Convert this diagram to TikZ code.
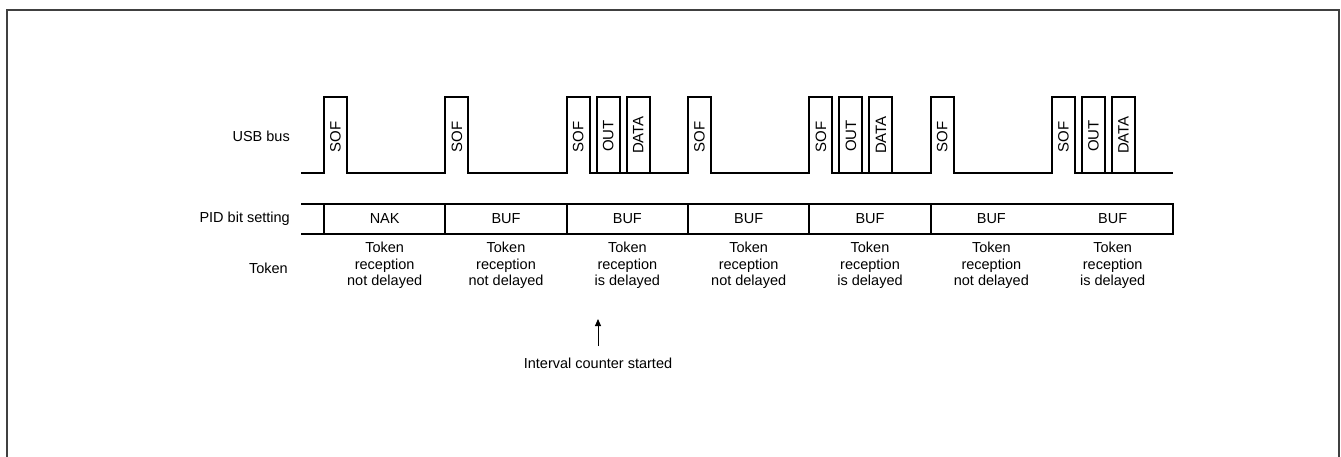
\documentclass[tikz,border=0pt]{standalone}
\usepackage{fontspec}
\setmainfont{Liberation Sans}
\usetikzlibrary{arrows.meta}
\begin{document}
\begin{tikzpicture}[x=1pt,y=-1pt,
  lbl/.style={font=\fontsize{14.5}{16.5}\selectfont, inner sep=0pt},
  rot/.style={font=\fontsize{15}{17}\selectfont, inner sep=0pt, rotate=90},
  wave/.style={line width=1.7pt, line join=miter},
  frame/.style={line width=2pt, draw=black!75}]
\useasboundingbox (0,0) rectangle (1341,456);
\draw[frame] (7,460) -- (7,10) -- (1339,10) -- (1339,460);
% row labels
\node[lbl, anchor=east] (lusb) at (290,136) {USB bus};
\node[lbl, anchor=east] (lpid) at (290,219) {PID bit setting};
\node[lbl, anchor=east] (ltok) at (288,268) {Token};
% waveform
\def\pw{23}
\coordinate (ws) at (301,173);
\coordinate (we) at (1173,173);
\draw[wave] (ws)
  \foreach \x in {324,445.33,566.67,688,809.33,930.67,1052} {
    -- (\x,173) -- (\x,97) -- (\x+\pw,97) -- (\x+\pw,173) }
  -- (we);
\foreach \x in {596.67,626.67,839.33,869.33,1082,1112}
  \draw[wave] (\x,173) rectangle (\x+\pw,97);
\foreach \x [count=\i] in {324,445.33,566.67,688,809.33,930.67,1052}
  \node[rot] (sof\i) at (\x+11.5,137) {SOF};
\foreach \x [count=\i] in {566.67,809.33,1052} {
  \node[rot] (out\i) at (\x+41.5,136) {OUT};
  \node[rot] (data\i) at (\x+71.5,135) {DATA};
}
% PID row
\draw[wave] (301,204) -- (1173,204) -- (1173,234) -- (301,234);
\foreach \x in {324,445.33,566.67,688,809.33,930.67}
  \draw[wave] (\x,204) -- (\x,234);
\foreach \x/\t [count=\i] in {324/NAK,445.33/BUF,566.67/BUF,688/BUF,809.33/BUF,930.67/BUF,1052/BUF}
  \node[lbl] (pid\i) at (\x+60.67,219) {\t};
% token row
\foreach \x/\t [count=\i] in {324/not,445.33/not,566.67/is,688/not,809.33/is,930.67/not,1052/is}
  \node[lbl, align=center, anchor=north] (tok\i) at (\x+60.67,242) {Token\\reception\\\t{} delayed};
% annotation
\node[lbl] (ann) at (598,363) {Interval counter started};
\coordinate (atail) at (598,346);
\draw[line width=1pt, -{Triangle[length=7pt,width=6pt]}] (atail) -- (598,319);
\end{tikzpicture}
\end{document}
